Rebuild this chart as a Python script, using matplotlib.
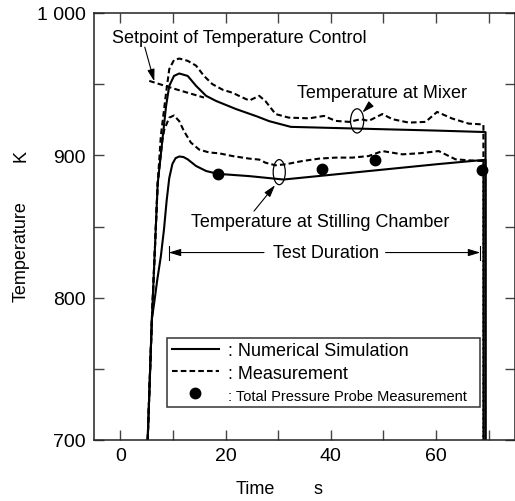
import matplotlib
matplotlib.use("Agg")
import matplotlib.pyplot as plt
from matplotlib.patches import Ellipse
from matplotlib.lines import Line2D
from matplotlib import font_manager

plt.rcParams['font.family'] = ['Liberation Sans', 'DejaVu Sans']

# ---------------- data ----------------
t_mix_sim = [5.2, 6.0, 7.1, 8.0, 8.7, 9.3, 10.2, 11.2, 12.8, 14.4, 16.3, 18.2, 22.0, 26.0,
             28.3, 32.4, 45.0, 60.0, 69.0, 69.4, 69.4]
T_mix_sim = [700, 785, 880, 911, 934.7, 948.8, 955.8, 957.5, 955.8, 948.8, 941.8, 938.2, 932.5,
             927.3, 924, 920, 918.8, 917.4, 916.4, 916.3, 700]

t_st_sim = [5.2, 6.0, 6.5, 7.0, 7.7, 8.3, 8.8, 9.3, 9.9, 10.5, 11.2, 12.0, 12.8, 14.4, 16.3,
            18.5, 24.5, 31.0, 40.0, 50.0, 60.0, 68.8, 69.4, 69.4]
T_st_sim = [700, 785, 798, 812, 829, 848, 868, 884, 894, 898, 899.2, 898.8, 897.2, 892.5, 889,
            887, 885.4, 883, 886.3, 890, 893.7, 896.7, 896.8, 700]

t_mix_meas = [5.2, 6.0, 7.1, 7.7, 8.7, 9.3, 10.2, 11.2, 12.8, 14.4, 15.9, 17.5, 19.5, 21.3,
              23.0, 24.5, 26.4, 27.6, 29.5, 32.0, 35.9, 38.7, 40.9, 43.5, 45.7, 47.2, 49.8,
              51.7, 54.8, 58.0, 60.2, 63.1, 66.2, 68.5, 69.0, 69.0]
T_mix_meas = [700, 785, 880, 913.6, 944, 960.6, 967, 968, 966.4, 963, 955.8, 950, 946, 944,
              941, 938.5, 941.8, 938, 929, 926.5, 926, 927.7, 924.2, 923.5, 925.4, 924.2, 929,
              925.4, 923, 923.5, 930.5, 925.8, 922.3, 921.8, 921.5, 700]

t_st_meas = [5.2, 6.0, 7.1, 8.0, 8.35, 9.3, 10.2, 11.2, 12.1, 13.4, 15.0, 16.9, 18.8, 21.3,
             24.5, 26.4, 27.6, 29.5, 31.4, 34.6, 37.8, 40.9, 44.1, 47.2, 49.8, 53.6, 57.0,
             60.5, 63.7, 66.2, 68.8, 69.0, 69.0]
T_st_meas = [700, 785, 880, 911, 918, 926.5, 928, 924, 917, 909, 904, 902, 901.4, 899.5,
             897.7, 897, 894.8, 893, 893.7, 896, 897.7, 898.4, 898.4, 899.5, 903, 900.7, 901.5,
             903, 897.2, 896.5, 896, 895.8, 700]

t_setpoint = [5.5, 10.5, 15.9]
T_setpoint = [952.3, 946.5, 940.6]

t_probe = [18.5, 38.4, 48.4, 68.8]
T_probe = [887, 890.5, 896.5, 889.5]

x_ticks = [0, 10, 20, 30, 40, 50, 60, 70]
x_ticklabels = ['0', '', '20', '', '40', '', '60', '']
y_ticks = [700, 750, 800, 850, 900, 950, 1000]
y_ticklabels = ['700', '', '800', '', '900', '', '1 000']

# ---------------- figure ----------------
fig = plt.figure(figsize=(5.15, 5.02), dpi=100)
ax = fig.add_axes([94 / 515, 61 / 502, 421 / 515, 427 / 502])

lw = 1.5
dash = (0, (2.7, 1.5))
ax.plot(t_mix_sim, T_mix_sim, color='black', lw=lw, solid_joinstyle='round')
ax.plot(t_st_sim, T_st_sim, color='black', lw=lw, solid_joinstyle='round')
ax.plot(t_mix_meas, T_mix_meas, color='black', lw=lw, linestyle=dash)
ax.plot(t_st_meas, T_st_meas, color='black', lw=lw, linestyle=dash)
ax.plot(t_setpoint, T_setpoint, color='black', lw=lw, linestyle=dash)
ax.plot(t_probe, T_probe, linestyle='none', marker='o', color='black', markersize=7.5)

ax.set_xlim(-5, 75)
ax.set_ylim(700, 1000)
ax.set_xticks(x_ticks)
ax.set_xticklabels(x_ticklabels)
ax.set_yticks(y_ticks)
ax.set_yticklabels(y_ticklabels)
ax.tick_params(direction='in', top=True, right=True, length=7, width=1.0,
               labelsize=14, color='#444444')
ax.tick_params(axis='y', pad=5.8)
ax.tick_params(axis='x', pad=5)
for s in ax.spines.values():
    s.set_linewidth(1.1)
    s.set_color('#222222')

# axis labels
fig.text(21 / 515, 1 - 252 / 502, 'Temperature', rotation=90, ha='center', va='center', fontsize=13)
fig.text(21 / 515, 1 - 156 / 502, 'K', rotation=90, ha='center', va='center', fontsize=13)
fig.text(255 / 515, 1 - 490 / 502, 'Time', ha='center', va='center', fontsize=13)
fig.text(318 / 515, 1 - 490 / 502, 's', ha='center', va='center', fontsize=13)

# annotations
arrow_kw = dict(arrowstyle='-|>,head_length=0.6,head_width=0.18', color='black', lw=0.8,
                shrinkA=0, shrinkB=0, mutation_scale=12)
ax.text(-1.5, 982.7, 'Setpoint of Temperature Control', ha='left', va='center', fontsize=13)
ax.annotate('', xy=(6.45, 952), xytext=(4.65, 976), arrowprops=arrow_kw)

ax.text(33.6, 944.2, 'Temperature at Mixer', ha='left', va='center', fontsize=13)
ax.annotate('', xy=(46.0, 930.1), xytext=(47.6, 935.9), arrowprops=arrow_kw)
ax.add_patch(Ellipse((45.0, 924.2), 2.5, 17, fill=False, lw=0.9, color='black'))

ax.text(13.5, 853.7, 'Temperature at Stilling Chamber', ha='left', va='center', fontsize=13)
ax.annotate('', xy=(29.4, 879), xytext=(25.4, 860.8), arrowprops=arrow_kw)
ax.add_patch(Ellipse((30.2, 888.2), 2.3, 17.6, fill=False, lw=0.9, color='black'))

ax.text(39.0, 831.7, 'Test Duration', ha='center', va='center', fontsize=13)
ax.annotate('', xy=(9.2, 831.7), xytext=(27.3, 831.7), arrowprops=arrow_kw)
ax.annotate('', xy=(68.4, 831.7), xytext=(50.4, 831.7), arrowprops=arrow_kw)
ax.plot([9.2, 9.2], [826.8, 836.6], color='black', lw=0.8)
ax.plot([68.4, 68.4], [826.8, 836.6], color='black', lw=0.8)

# legend
handles = [Line2D([], [], color='black', lw=lw),
           Line2D([], [], color='black', lw=lw, linestyle=dash),
           Line2D([], [], color='black', linestyle='none', marker='o', markersize=7.5)]
labels = [': Numerical Simulation', ': Measurement', ': Total Pressure Probe Measurement']
leg = ax.legend(handles, labels, loc='lower left',
                bbox_to_anchor=(0.174, 0.0766, 0.743, 0.172), mode='expand',
                fontsize=13, handlelength=2.6, handletextpad=0.5, labelspacing=0.3,
                borderpad=0.25, borderaxespad=0, fancybox=False, framealpha=1,
                edgecolor='#333333')
leg.get_frame().set_linewidth(1.1)
names = {f.name for f in font_manager.fontManager.ttflist}
t3 = leg.get_texts()[2]
if 'Liberation Sans Narrow' in names:
    t3.set_fontfamily('Liberation Sans Narrow')
    t3.set_fontsize(12.7)
else:
    t3.set_fontsize(10.5)

fig.savefig('out.png', dpi=100)
